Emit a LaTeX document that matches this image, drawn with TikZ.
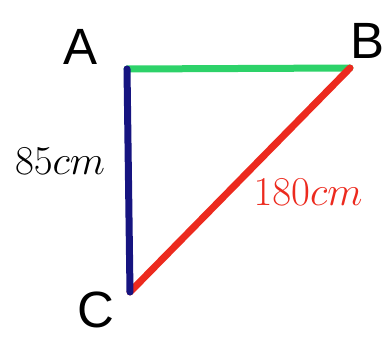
\RequirePackage{fix-cm}
\documentclass[tikz,border=0pt]{standalone}
\usepackage{amsmath, amssymb}
\usepackage{fontspec}
\setsansfont{Liberation Sans}
\usepackage{xcolor}
\usepackage{tikz}

\definecolor{sidegreen}{RGB}{45,210,105}
\definecolor{sideblue}{RGB}{22,20,128}
\definecolor{sidered}{RGB}{236,42,30}

\begin{document}
\begin{tikzpicture}[x=1pt, y=-1pt, line width=7pt, line cap=round,
    vertex/.style={font=\sffamily\fontsize{51}{60}\selectfont, inner sep=0pt},
    sidelabel/.style={font=\fontsize{41}{48}\selectfont, inner sep=0pt}]
  \useasboundingbox (0,0) rectangle (391,339);
  \coordinate (A) at (127,69);
  \coordinate (B) at (350,68);
  \coordinate (C) at (130,292);
  \draw[sidegreen] (A) -- (B);
  \draw[sidered] (C) -- (B);
  \draw[sideblue] (A) -- (C);
  \node[vertex] (labA) at (81,47) {A};
  \node[vertex] (labB) at (368,41) {B};
  \node[vertex] (labC) at (96,310) {C};
  \node[sidelabel] (labAC) at (60,161) {$85cm$};
  \node[sidelabel, text=sidered] (labCB) at (308,192) {$180cm$};
\end{tikzpicture}
\end{document}
